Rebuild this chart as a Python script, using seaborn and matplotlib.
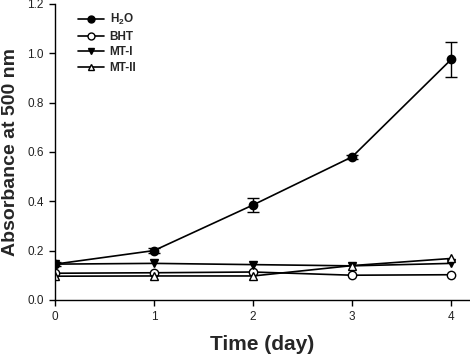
import matplotlib
matplotlib.use("Agg")
import matplotlib.pyplot as plt
import seaborn as sns
import numpy as np
import pandas as pd

days = [0, 1, 2, 3, 4]
h2o = [0.145, 0.20, 0.385, 0.58, 0.975]
h2o_err = [0.008, 0.01, 0.03, 0.008, 0.07]
bht = [0.108, 0.11, 0.113, 0.10, 0.102]
mt1 = [0.145, 0.148, 0.143, 0.138, 0.148]
mt2 = [0.096, 0.097, 0.097, 0.139, 0.168]
series_names = ["H$_2$O", "BHT", "MT-I", "MT-II"]
x_ticks = [0, 1, 2, 3, 4]
y_ticks = [0.0, 0.2, 0.4, 0.6, 0.8, 1.0, 1.2]

sns.set_style("ticks")
plt.rcParams['font.family'] = ['Liberation Sans', 'DejaVu Sans']
plt.rcParams['mathtext.fontset'] = 'custom'
plt.rcParams['mathtext.rm'] = 'Liberation Sans:bold'
plt.rcParams['mathtext.it'] = 'Liberation Sans:bold'

fig = plt.figure(figsize=(4.70, 3.60), dpi=100)
ax = fig.add_axes([0.117, 0.167, 0.883, 0.822])

styles = [
    dict(marker='o', mfc='black', mec='black'),
    dict(marker='o', mfc='white', mec='black'),
    dict(marker='v', mfc='black', mec='black'),
    dict(marker='^', mfc='white', mec='black'),
]
data = [h2o, bht, mt1, mt2]
errs = [h2o_err, None, None, None]
for name, vals, st, er in zip(series_names, data, styles, errs):
    df = pd.DataFrame({"day": days, "val": vals})
    sns.lineplot(data=df, x="day", y="val", ax=ax, color='black', lw=1.2,
                 marker=st['marker'], markerfacecolor=st['mfc'],
                 markeredgecolor=st['mec'], markersize=6, markeredgewidth=1,
                 label=name, legend=False)
    if er is not None:
        ax.errorbar(days, vals, yerr=er, fmt='none', ecolor='black',
                    elinewidth=1, capsize=4, capthick=1)

ax.set_xlim(0, 4.19)
ax.set_ylim(0, 1.2)
ax.set_xticks(x_ticks)
ax.set_yticks(y_ticks)
ax.set_xticklabels([str(t) for t in x_ticks], fontsize=8.5, color='#222222')
ax.set_yticklabels([f"{t:.1f}" for t in y_ticks], fontsize=8.5, color='#222222')
for sp in ['top', 'right']:
    ax.spines[sp].set_visible(False)
for sp in ['left', 'bottom']:
    ax.spines[sp].set_linewidth(1.0)
    ax.spines[sp].set_color('black')
ax.tick_params(direction='out', length=4, width=1, color='black', pad=4)
ax.set_xlabel("Time (day)", fontsize=15, fontweight='bold', labelpad=9)
ax.set_ylabel("Absorbance at 500 nm", fontsize=14, fontweight='bold', labelpad=6)

leg = ax.legend(loc='upper left', bbox_to_anchor=(0.035, 1.0), frameon=False,
                fontsize=8.5, handlelength=2.2, labelspacing=0.3,
                handletextpad=0.5, borderaxespad=0.3)
for t in leg.get_texts():
    t.set_fontweight('bold')
for h in leg.legend_handles:
    h.set_markersize(5)

fig.savefig("out.png", dpi=100)
